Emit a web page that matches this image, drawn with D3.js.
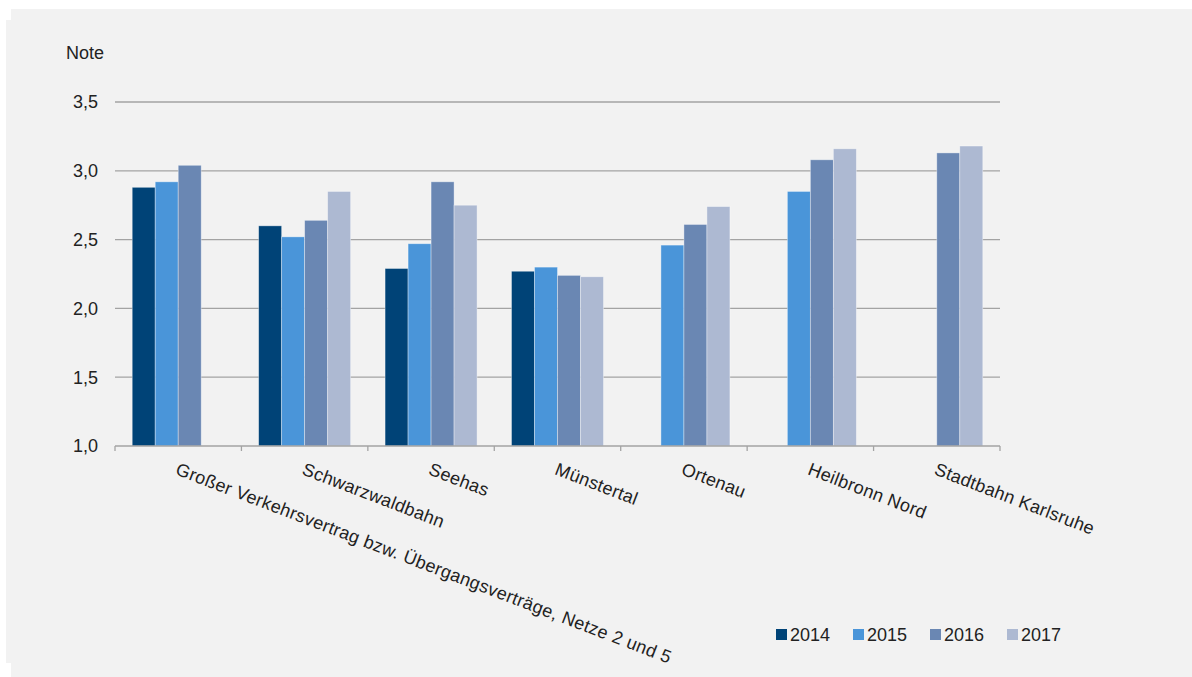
<!DOCTYPE html>
<html>
<head>
<meta charset="utf-8">
<script src="https://cdn.jsdelivr.net/npm/d3@7"></script>
<style>
    body { margin: 0; background: #fff; }
    text { font-family: "Liberation Sans", Arial, sans-serif; fill: #222; }
</style>
</head>
<body>
<svg width="1192" height="677"></svg>
<script>
// data
var categories = [
    "Großer Verkehrsvertrag bzw. Übergangsverträge, Netze 2 und 5",
    "Schwarzwaldbahn",
    "Seehas",
    "Münstertal",
    "Ortenau",
    "Heilbronn Nord",
    "Stadtbahn Karlsruhe"
];
var years = ["2014", "2015", "2016", "2017"];
var colors = ["#004377", "#4a95d9", "#6a87b3", "#adb9d2"];

var values2014 = [2.88, 2.60, 2.29, 2.27, null, null, null];
var values2015 = [2.92, 2.52, 2.47, 2.30, 2.46, 2.85, null];
var values2016 = [3.04, 2.64, 2.92, 2.24, 2.61, 3.08, 3.13];
var values2017 = [null, 2.85, 2.75, 2.23, 2.74, 3.16, 3.18];
var series = [values2014, values2015, values2016, values2017];

var yTicks = [1.0, 1.5, 2.0, 2.5, 3.0, 3.5];

var margin = { top: 102, left: 115, right: 192, bottom: 231 },
    width = 1192 - margin.left - margin.right,
    height = 677 - margin.top - margin.bottom;

var svg = d3.select("svg");

// panel background
svg.append("rect")
    .attr("x", 11).attr("y", 9)
    .attr("width", 1181).attr("height", 668)
    .attr("fill", "#f2f2f2");
svg.append("rect")
    .attr("x", 6).attr("y", 20)
    .attr("width", 1186).attr("height", 643)
    .attr("fill", "#f2f2f2");

var g = svg.append("g")
    .attr("transform", "translate(" + margin.left + "," + margin.top + ")");

var x = d3.scaleBand().domain(d3.range(categories.length)).range([0, width]);
var groupW = 92;
var x1 = d3.scaleBand().domain(d3.range(years.length))
    .range([x.bandwidth() / 2 - groupW / 2, x.bandwidth() / 2 + groupW / 2]);
var y = d3.scaleLinear().domain([1, 3.5]).range([height, 0]);

// gridlines
g.selectAll(".grid")
    .data(yTicks.slice(1))
    .enter().append("line")
    .attr("class", "grid")
    .attr("x1", 0).attr("x2", width)
    .attr("y1", function(d) { return y(d); })
    .attr("y2", function(d) { return y(d); })
    .attr("stroke", "#a3a3a3")
    .attr("stroke-width", 1.3);

// y labels
g.selectAll(".ylab")
    .data(yTicks)
    .enter().append("text")
    .attr("class", "ylab")
    .attr("x", -17)
    .attr("y", function(d) { return y(d); })
    .attr("dy", "0.36em")
    .attr("text-anchor", "end")
    .style("font-size", "18px")
    .text(function(d) { return d3.format(".1f")(d).replace(".", ","); });

svg.append("text")
    .attr("x", 66).attr("y", 59)
    .style("font-size", "18px")
    .text("Note");

// bars
var groups = g.selectAll(".cat")
    .data(categories)
    .enter().append("g")
    .attr("class", "cat")
    .attr("transform", function(d, i) { return "translate(" + x(i) + ",0)"; });

groups.selectAll("rect")
    .data(function(d, i) {
        return series.map(function(s, k) { return { k: k, v: s[i] }; })
            .filter(function(e) { return e.v != null; });
    })
    .enter().append("rect")
    .attr("x", function(d) { return x1(d.k); })
    .attr("width", x1.bandwidth())
    .attr("y", function(d) { return y(d.v); })
    .attr("height", function(d) { return height - y(d.v); })
    .attr("fill", function(d) { return colors[d.k]; })
    .attr("stroke", "rgba(255,255,255,0.45)")
    .attr("stroke-width", 0.8);

// x axis line and ticks
g.append("line")
    .attr("x1", 0).attr("x2", width)
    .attr("y1", height).attr("y2", height)
    .attr("stroke", "#a3a3a3")
    .attr("stroke-width", 1.3);

g.selectAll(".tick")
    .data(d3.range(categories.length + 1))
    .enter().append("line")
    .attr("class", "tick")
    .attr("x1", function(i) { return i * x.step(); })
    .attr("x2", function(i) { return i * x.step(); })
    .attr("y1", height).attr("y2", height + 5)
    .attr("stroke", "#a3a3a3")
    .attr("stroke-width", 1.3);

// rotated category labels
g.selectAll(".xlab")
    .data(categories)
    .enter().append("text")
    .attr("class", "xlab")
    .attr("transform", function(d, i) {
        return "translate(" + (x(i) + x.bandwidth() / 2 + 1) + "," + (height + 16) + ")rotate(21)";
    })
    .attr("dy", "0.72em")
    .style("font-size", "18px")
    .style("letter-spacing", "0.3px")
    .text(function(d) { return d; });

// legend
var legend = svg.append("g")
    .attr("transform", "translate(776,629)");

var item = legend.selectAll(".item")
    .data(years)
    .enter().append("g")
    .attr("class", "item")
    .attr("transform", function(d, i) { return "translate(" + (i * 77) + ",0)"; });

item.append("rect")
    .attr("width", 11).attr("height", 11)
    .attr("fill", function(d, i) { return colors[i]; });

item.append("text")
    .attr("x", 14).attr("y", 12)
    .style("font-size", "18px")
    .text(function(d) { return d; });
</script>
</body>
</html>
